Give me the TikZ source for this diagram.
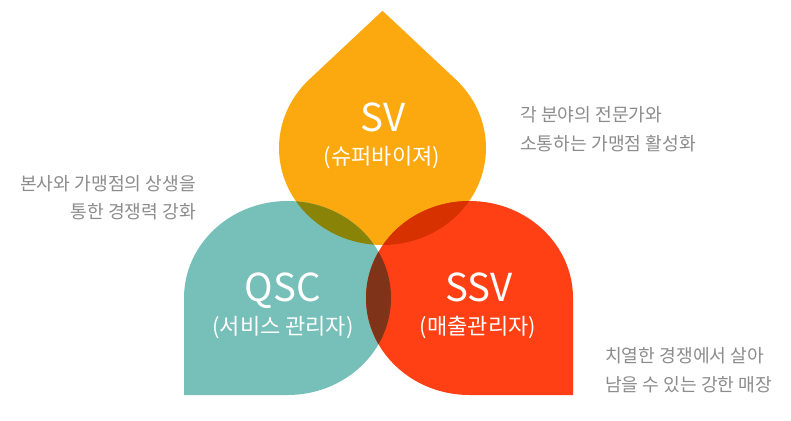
\documentclass[tikz,border=0pt]{standalone}
\usepackage{fontspec}
\setmainfont{Noto Sans CJK KR}
\definecolor{svorange}{HTML}{FCA80F}
\definecolor{qscteal}{HTML}{77BFB9}
\definecolor{ssvred}{HTML}{FF4015}
\definecolor{mixolive}{HTML}{898307}
\definecolor{mixdark}{HTML}{D73100}
\definecolor{mixbrown}{HTML}{7F3318}
\definecolor{notegray}{HTML}{8C8C8C}
% drop outlines in unit coordinates (circle of radius 1, one square corner)
\def\svdrop{(0,1.41421) -- (45:1) arc[start angle=45,end angle=-225,radius=1pt] -- cycle}
\def\qscdrop{(-1,-1) -- (-1,0) arc[start angle=180,end angle=-90,radius=1pt] -- cycle}
\def\ssvdrop{(1,-1) -- (0,-1) arc[start angle=-90,end angle=-360,radius=1pt] -- cycle}
\tikzset{
  svpos/.style={shift={(382.5,272)},xscale=103.5,yscale=97},
  qscpos/.style={shift={(287.5,122)},xscale=103.5,yscale=97},
  ssvpos/.style={shift={(469.5,122)},xscale=103.5,yscale=97},
  title/.style={text=white,font=\fontsize{38.5}{40}\selectfont,anchor=base,inner sep=0pt},
  subtitle/.style={text=white,font=\fontsize{22}{24}\selectfont,anchor=base,inner sep=0pt},
  note/.style={text=notegray,font=\fontsize{18.2}{20}\selectfont,inner sep=0pt},
}
\begin{document}
\begin{tikzpicture}[x=1pt,y=1pt]
\fill[white] (0,0) rectangle (791,420);
\useasboundingbox (0,0) rectangle (791,420);
% the three drops
\fill[svorange,svpos] \svdrop;
\fill[qscteal,qscpos] \qscdrop;
\fill[ssvred,ssvpos] \ssvdrop;
% overlaps
\begin{scope}
  \clip[svpos] \svdrop;
  \fill[mixolive,qscpos] \qscdrop;
  \fill[mixdark,ssvpos] \ssvdrop;
\end{scope}
\begin{scope}
  \clip[qscpos] \qscdrop;
  \fill[mixbrown,ssvpos] \ssvdrop;
\end{scope}
% labels inside the drops
\node[title] (sv) at (383,288) {SV};
\node[subtitle] (svsub) at (382,255) {(슈퍼바이져)};
\node[title] (qsc) at (283,118) {QSC};
\node[subtitle] (qscsub) at (283,85) {(서비스 관리자)};
\node[title] (ssv) at (479,118) {SSV};
\node[subtitle] (ssvsub) at (478,85) {(매출관리자)};
% side notes
\node[note,anchor=base east] (l1) at (196,229) {본사와 가맹점의 상생을};
\node[note,anchor=base east] (l2) at (196,201) {통한 경쟁력 강화};
\node[note,anchor=base west] (r1) at (520,298) {각 분야의 전문가와};
\node[note,anchor=base west] (r2) at (520,269) {소통하는 가맹점 활성화};
\node[note,anchor=base west] (b1) at (605,58) {치열한 경쟁에서 살아};
\node[note,anchor=base west] (b2) at (605,29) {남을 수 있는 강한 매장};
\end{tikzpicture}
\end{document}
